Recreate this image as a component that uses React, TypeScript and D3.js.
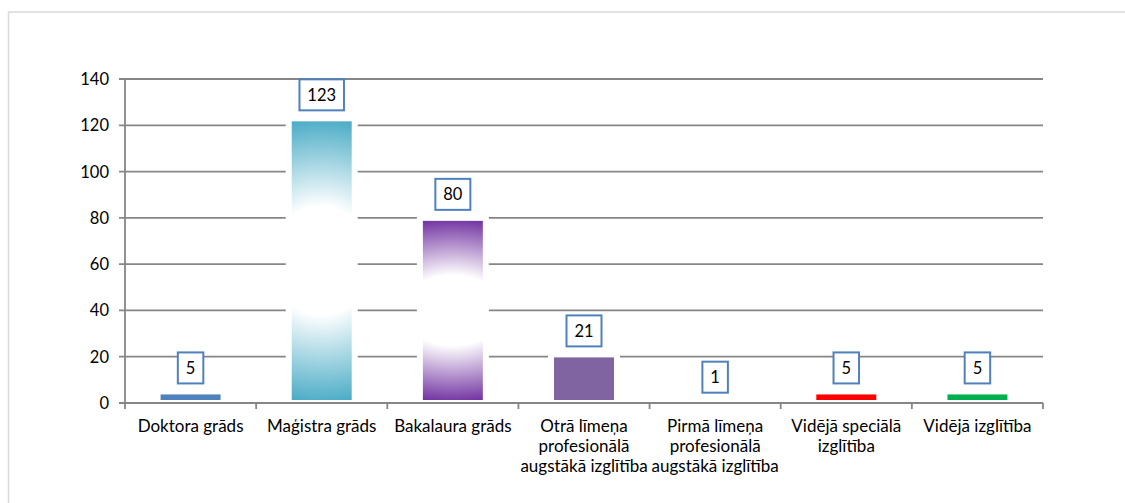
import React from "react";
import * as d3 from "d3";

const categories = [
  "Doktora grāds",
  "Maģistra grāds",
  "Bakalaura grāds",
  "Otrā līmeņa profesionālā augstākā izglītība",
  "Pirmā līmeņa profesionālā augstākā izglītība",
  "Vidējā speciālā izglītība",
  "Vidējā izglītība",
];
const categoryLines = [
  ["Doktora grāds"],
  ["Maģistra grāds"],
  ["Bakalaura grāds"],
  ["Otrā līmeņa", "profesionālā", "augstākā izglītība"],
  ["Pirmā līmeņa", "profesionālā", "augstākā izglītība"],
  ["Vidējā speciālā", "izglītība"],
  ["Vidējā izglītība"],
];
const values = [5, 123, 80, 21, 1, 5, 5];
const yTicks = [0, 20, 40, 60, 80, 100, 120, 140];

const barFills = [
  "#4F81BD",
  "url(#gradTeal)",
  "url(#gradPurple)",
  "#8064A2",
  "#4F81BD",
  "#FF0000",
  "#00B050",
];

const W = 1125;
const H = 503;
const FONT = "Lato, 'Open Sans', sans-serif";

export default function App() {
  const x = d3
    .scaleBand<string>()
    .domain(categories)
    .range([125, 1043])
    .paddingInner(0.497)
    .paddingOuter(0.2485);
  const y = d3.scaleLinear().domain([0, 140]).range([403, 79]);
  const step = x.step();
  const bw = x.bandwidth();
  const [x0, x1] = x.range();

  return (
    <svg
      width={W}
      height={H}
      style={{ position: "absolute", left: 0, top: 0, background: "#fff" }}
      fontFamily={FONT}
    >
      <defs>
        <radialGradient
          id="gradTeal"
          cx="0.5"
          cy="0.5"
          r="0.5"
          gradientTransform="translate(0.5 0.5) scale(4 1) translate(-0.5 -0.5)"
        >
          <stop offset="0" stopColor="#ffffff" />
          <stop offset="0.38" stopColor="#ffffff" />
          <stop offset="1" stopColor="#4BACC6" />
        </radialGradient>
        <radialGradient
          id="gradPurple"
          cx="0.5"
          cy="0.5"
          r="0.5"
          gradientTransform="translate(0.5 0.5) scale(4 1) translate(-0.5 -0.5)"
        >
          <stop offset="0" stopColor="#ffffff" />
          <stop offset="0.38" stopColor="#ffffff" />
          <stop offset="1" stopColor="#7030A0" />
        </radialGradient>
      </defs>
      <rect x={0} y={0} width={W} height={H} fill="#fff" />
      <rect
        x={8.5}
        y={12}
        width={1140}
        height={520}
        fill="none"
        stroke="#d9d9d9"
        strokeWidth={1.5}
      />
      {/* gridlines */}
      {yTicks.map((t) => (
        <line
          key={"g" + t}
          x1={119}
          x2={x1}
          y1={y(t)}
          y2={y(t)}
          stroke="#868686"
          strokeWidth={1.8}
        />
      ))}
      {/* bars */}
      {categories.map((c, i) => (
        <rect
          key={"b" + i}
          x={x(c)}
          y={y(values[i])}
          width={bw}
          height={y(0) - y(values[i])}
          fill={barFills[i]}
          stroke="#fff"
          strokeWidth={6}
        />
      ))}
      {/* axes */}
      <line x1={x0} x2={x0} y1={y(140)} y2={y(0)} stroke="#868686" strokeWidth={1.8} />
      <line x1={119} x2={x1} y1={y(0)} y2={y(0)} stroke="#868686" strokeWidth={1.8} />
      {d3.range(categories.length + 1).map((i) => (
        <line
          key={"xt" + i}
          x1={x0 + i * step}
          x2={x0 + i * step}
          y1={y(0)}
          y2={y(0) + 6}
          stroke="#868686"
          strokeWidth={1.8}
        />
      ))}
      {yTicks.map((t) => (
        <text
          key={"yl" + t}
          x={109}
          y={y(t)}
          textAnchor="end"
          dominantBaseline="central"
          fontSize={16.5}
          fill="#000"
        >
          {t}
        </text>
      ))}
      {/* category labels */}
      {categories.map((c, i) => (
        <text
          key={"cl" + i}
          x={(x(c) as number) + bw / 2}
          y={432}
          textAnchor="middle"
          fontSize={17}
          fill="#000"
        >
          {categoryLines[i].map((ln, j) => (
            <tspan key={j} x={(x(c) as number) + bw / 2} y={432 + j * 20}>
              {ln}
            </tspan>
          ))}
        </text>
      ))}
      {/* data labels */}
      {categories.map((c, i) => {
        const s = String(values[i]);
        const bwid = 9.5 * s.length + 16;
        const cx = (x(c) as number) + bw / 2;
        const bottom = y(values[i]) - 8;
        return (
          <g key={"dl" + i}>
            <rect
              x={cx - bwid / 2}
              y={bottom - 31}
              width={bwid}
              height={31}
              fill="#fff"
              stroke="#4F81BD"
              strokeWidth={2}
            />
            <text
              x={cx}
              y={bottom - 15.5}
              textAnchor="middle"
              dominantBaseline="central"
              fontSize={16.5}
              fill="#000"
            >
              {s}
            </text>
          </g>
        );
      })}
    </svg>
  );
}
